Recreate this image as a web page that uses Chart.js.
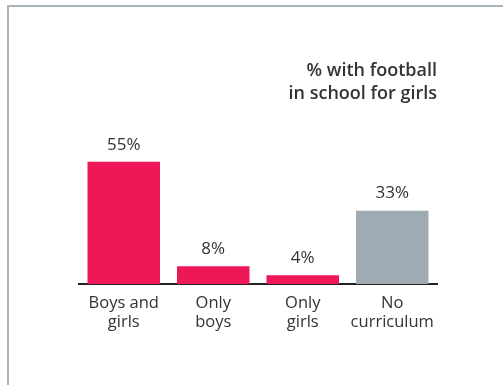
<!DOCTYPE html>
<html>
<head>
<meta charset="utf-8">
<script src="https://cdn.jsdelivr.net/npm/chart.js@4"></script>
<style>
  html, body { margin: 0; padding: 0; background: #fff; }
  #wrap { position: relative; width: 503px; height: 385px; overflow: hidden; }
  #frame {
    position: absolute; left: 7px; top: 5px; right: 0; bottom: 0;
    border-top: 2px solid #a9b4bb; border-left: 2px solid #a9b4bb;
  }
  canvas { position: absolute; left: 0; top: 0; }
</style>
</head>
<body>
<div id="wrap">
  <div id="frame"></div>
  <canvas id="chart" width="503" height="385"></canvas>
</div>
<script>
const categories = [['Boys and', 'girls'], ['Only', 'boys'], ['Only', 'girls'], ['No', 'curriculum']];
const shares = [55, 8, 4, 33];
const barColors = ['#ee1758', '#ee1758', '#ee1758', '#9eabb3'];
const titleLines = ['% with football', 'in school for girls'];

// draws the "55%" style labels above each bar
const valueLabels = {
    id: 'valueLabels',
    afterDatasetsDraw(chart) {
        const ctx = chart.ctx;
        const meta = chart.getDatasetMeta(0);
        ctx.save();
        ctx.font = '17px "Open Sans", sans-serif';
        ctx.fillStyle = '#333';
        ctx.textAlign = 'center';
        ctx.textBaseline = 'middle';
        meta.data.forEach((bar, i) => {
            ctx.fillText(shares[i] + '%', bar.x, bar.y - 17);
        });
        ctx.restore();
    }
};

new Chart(document.getElementById('chart').getContext('2d'), {
    type: 'bar',
    data: {
        labels: categories,
        datasets: [{
            data: shares,
            backgroundColor: barColors,
            borderWidth: 0,
            barPercentage: 0.9,
            categoryPercentage: 0.9
        }]
    },
    options: {
        responsive: false,
        animation: false,
        layout: { padding: { left: 79, right: 66, top: 0, bottom: 51 } },
        plugins: {
            legend: { display: false },
            tooltip: { enabled: false },
            title: {
                display: true,
                text: titleLines,
                align: 'end',
                color: '#333',
                font: { family: '"Open Sans", sans-serif', size: 18, weight: '600', lineHeight: 1.28 },
                padding: { top: 59, bottom: 1 }
            }
        },
        scales: {
            y: { display: false, min: 0, max: 80 },
            x: {
                grid: { display: false },
                border: { display: true, color: '#222', width: 2 },
                ticks: {
                    color: '#333',
                    padding: 2,
                    font: { family: '"Open Sans", sans-serif', size: 16.5, lineHeight: 1.15 }
                }
            }
        }
    },
    plugins: [valueLabels]
});
</script>
</body>
</html>
